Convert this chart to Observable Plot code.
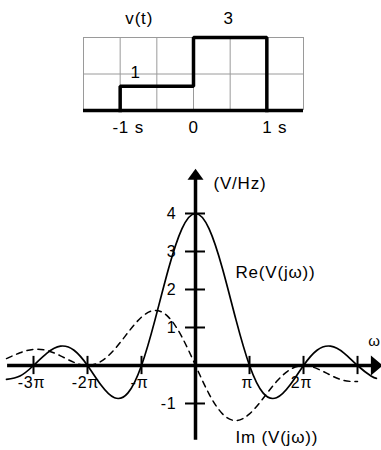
<!DOCTYPE html>
<html>
<head>
<meta charset="utf-8">
<script src="https://cdn.jsdelivr.net/npm/d3@7"></script>
<script src="https://cdn.jsdelivr.net/npm/@observablehq/plot@0.6"></script>
<style>
  html, body { margin: 0; padding: 0; background: #fff; }
  #chart { position: relative; width: 381px; height: 450px; overflow: hidden; }
  #chart svg { position: absolute; left: 0; top: 0; }
  #chart text { letter-spacing: 0.8px; }
</style>
</head>
<body>
<div id="chart"></div>
<script>
// ---- v(t): 1 V on (-1 s, 0), 3 V on (0, 1 s) ----
const pulseEdges = [-1, 0, 1];     // seconds
const pulseLevels = [1, 3, 0];     // level after each edge
const gridT = [-1.5, -1, -0.5, 0, 0.5, 1, 1.5];
const gridV = [1.5, 3];
const timeLabels = ["-1 s", "1 s"];
const timeLabelAt = [-1, 1];

// ---- V(jω) samples, ω in multiples of π ----
const omegaRe = [-3.5, -3.25, -3, -2.75, -2.5, -2.25, -2, -1.75, -1.5, -1.25, -1, -0.75, -0.5, -0.25,
  0, 0.25, 0.5, 0.75, 1, 1.25, 1.5, 1.75, 2, 2.25, 2.5, 2.75, 3, 3.25, 3.35];
const reV = [-0.364, -0.277, 0, 0.327, 0.509, 0.400, 0, -0.514, -0.849, -0.720, 0, 1.200, 2.546, 3.601,
  4, 3.601, 2.546, 1.200, 0, -0.720, -0.849, -0.514, 0, 0.400, 0.509, 0.327, 0, -0.277, -0.339];
const omegaIm = [-3.5, -3.25, -3, -2.75, -2.5, -2.25, -2, -1.75, -1.5, -1.25, -1, -0.75, -0.5, -0.25,
  0, 0.25, 0.5, 0.75, 1, 1.25, 1.5, 1.75, 2, 2.25, 2.5, 2.75, 3];
const imV = [0.182, 0.334, 0.424, 0.395, 0.255, 0.083, 0, 0.107, 0.424, 0.869, 1.273, 1.449, 1.273, 0.746,
  0, -0.746, -1.273, -1.449, -1.273, -0.869, -0.424, -0.107, 0, -0.083, -0.255, -0.395, -0.424];

const yTicks = [-1, 1, 2, 3, 4];
const xTicks = [-3, -2, -1, 1, 2, 3];
const xTickLabels = ["-3π", "-2π", "-π", "π", "2π"];
const xTickLabelAt = [-3, -2, -1, 1, 2];

const font = "'Liberation Sans', Arial, Helvetica, sans-serif";

const pulse = [{t: pulseEdges[0], v: 0}, ...pulseEdges.map((t, i) => ({t, v: pulseLevels[i]}))];
const reData = omegaRe.map((w, i) => ({w, v: reV[i]}));
const imData = omegaIm.map((w, i) => ({w, v: imV[i]}));

// filled arrowheads, tip at the anchor point
const arrowRight = {draw(ctx) { ctx.moveTo(0, 0); ctx.lineTo(-12, -10); ctx.lineTo(-12, 10); ctx.closePath(); }};
const arrowUp = {draw(ctx) { ctx.moveTo(0, 0); ctx.lineTo(-8, 11); ctx.lineTo(8, 11); ctx.closePath(); }};

const spectrum = Plot.plot({
  width: 381, height: 450,
  marginLeft: 0, marginRight: 0, marginTop: 0, marginBottom: 0,
  x: {domain: [-3.611, 3.444], axis: null},
  y: {domain: [-2.237, 9.605], axis: null},
  style: {background: "transparent", fontFamily: font, color: "black"},
  marks: [
    // axes
    Plot.ruleY([0], {x1: -3.48, x2: 3.3, strokeWidth: 3.5}),
    Plot.ruleX([0], {y1: -1.97, y2: 5.0, strokeWidth: 3.5}),
    Plot.dot([0], {x: 3.47, y: 0, symbol: arrowRight, fill: "black", stroke: "none"}),
    Plot.dot([0], {x: 0, y: 5.18, symbol: arrowUp, fill: "black", stroke: "none"}),
    Plot.ruleY(yTicks, {y: d => d, x1: -0.185, x2: 0.185, strokeWidth: 2}),
    Plot.ruleX(xTicks, {x: d => d, y1: -0.24, y2: 0.24, strokeWidth: 2}),
    Plot.text(yTicks, {x: 0, y: d => d, text: d => String(d), textAnchor: "end", dx: -19, fontSize: 16}),
    Plot.text(xTickLabels, {x: xTickLabelAt, y: 0, dy: 17, dx: -2, fontSize: 16}),
    // curves
    Plot.line(imData, {x: "w", y: "v", curve: "natural", strokeWidth: 1.5, strokeDasharray: "6,5"}),
    Plot.line(reData, {x: "w", y: "v", curve: "natural", strokeWidth: 1.7}),
    // labels
    Plot.text(["(V/Hz)"], {x: 0.333, y: 4.79, textAnchor: "start", fontSize: 17}),
    Plot.text(["Re(V(jω))"], {x: 0.741, y: 2.447, textAnchor: "start", fontSize: 17}),
    Plot.text(["Im (V(jω))"], {x: 0.741, y: -1.895, textAnchor: "start", fontSize: 17}),
    Plot.text(["ω"], {x: 3.2, y: 0.63, textAnchor: "start", fontSize: 15})
  ]
});

const signal = Plot.plot({
  width: 381, height: 140,
  marginLeft: 83, marginRight: 78, marginTop: 37, marginBottom: 30,
  x: {domain: [-1.5, 1.5], axis: null},
  y: {domain: [0, 3], axis: null},
  style: {background: "transparent", fontFamily: font, color: "black"},
  marks: [
    Plot.ruleX(gridT, {stroke: "#9a9a9a", strokeWidth: 1}),
    Plot.ruleY(gridV, {stroke: "#9a9a9a", strokeWidth: 1}),
    Plot.ruleY([0], {strokeWidth: 3.5}),
    Plot.line(pulse, {x: "t", y: "v", curve: "step-after", strokeWidth: 3.5, strokeLinejoin: "miter", strokeLinecap: "square"}),
    Plot.text(["v(t)"], {x: -0.74, y: 3.78, fontSize: 17}),
    Plot.text([String(pulseLevels[1])], {x: 0.48, y: 3.78, fontSize: 17}),
    Plot.text([String(pulseLevels[0])], {x: -0.79, y: 1.56, fontSize: 17}),
    Plot.text(["0"], {x: 0, y: 0, dy: 17, fontSize: 17}),
    Plot.text(timeLabels, {x: timeLabelAt, y: 0, dy: 17, dx: 8, fontSize: 17})
  ]
});

const root = document.getElementById("chart");
root.append(spectrum, signal);
</script>
</body>
</html>
